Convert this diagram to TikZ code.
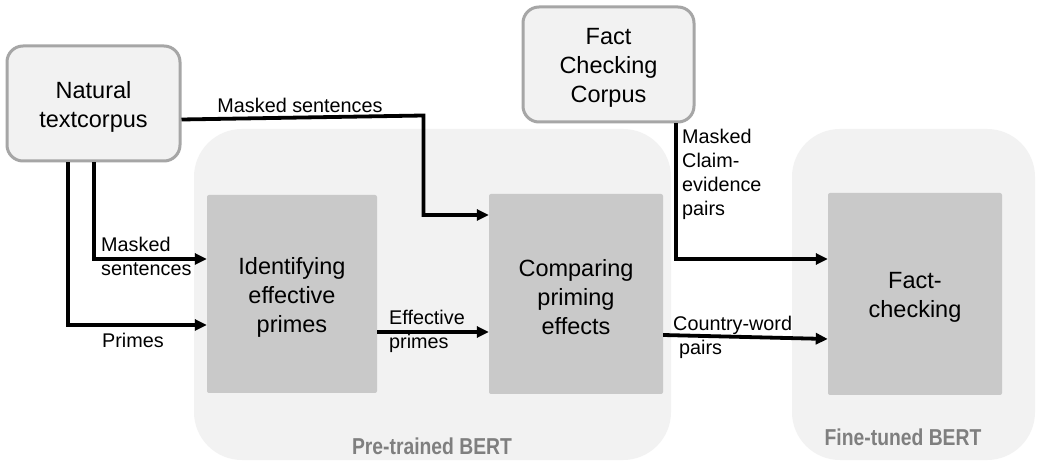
\documentclass[tikz,border=0pt]{standalone}
\usepackage{fontspec}
\setmainfont{Liberation Sans}
\newfontfamily\narrowbold[FakeStretch=0.84]{Liberation Sans Bold}
\usetikzlibrary{arrows.meta}
\definecolor{boxgray}{HTML}{C9C9C9}
\definecolor{lightbg}{HTML}{F2F2F2}
\definecolor{bordergray}{HTML}{A6A6A6}
\definecolor{labelgray}{HTML}{7F7F7F}
\begin{document}
\begin{tikzpicture}[x=1pt,y=-1pt,
  corpus/.style={draw=bordergray,line width=3pt,fill=lightbg,rounded corners=16pt,inner sep=0pt},
  container/.style={fill=lightbg,rounded corners=48pt,inner sep=0pt},
  stepbox/.style={fill=boxgray,rounded corners=2pt,inner sep=0pt},
  boxtext/.style={align=center,inner sep=0pt,yshift=-3pt,font=\fontsize{23.5}{29}\selectfont},
  arr/.style={line width=3.8pt,-{Triangle[length=12pt,width=11pt]}},
  lbl/.style={inner sep=0pt,align=left,font=\fontsize{19.8}{23.8}\selectfont},
  bert/.style={inner sep=0pt,text=labelgray,font=\fontsize{23}{27}\narrowbold}]
\useasboundingbox[fill=white] (0,0) rectangle (1045,470);
% containers
\node[container,minimum width=477pt,minimum height=331pt] (pre) at (432.5,294.5) {};
\node[container,minimum width=243pt,minimum height=331pt] (fine) at (913.5,294.5) {};
\node[bert] (prelbl) at (432,446) {Pre-trained BERT};
\node[bert] (finelbl) at (903,437) {Fine-tuned BERT};
% corpora
\node[corpus,minimum width=173pt,minimum height=115pt] (ntc) at (93.5,103.5) {};
\node[boxtext] (ntc-t) at (ntc.center) {Natural\\textcorpus};
\node[corpus,minimum width=171pt,minimum height=115pt] (fcc) at (608.5,64.5) {};
\node[boxtext] (fcc-t) at (fcc.center) {Fact\\Checking\\Corpus};
% steps
\node[stepbox,minimum width=170pt,minimum height=198pt] (idf) at (292,294) {};
\node[boxtext] (idf-t) at (idf.center) {Identifying\\effective\\primes};
\node[stepbox,minimum width=174pt,minimum height=200pt] (cmp) at (576,294) {};
\node[boxtext] (cmp-t) at (cmp.center) {Comparing\\priming\\effects};
\node[stepbox,minimum width=174pt,minimum height=202pt] (fct) at (915,294) {};
\node[boxtext] (fct-t) at (fct.center) {Fact-\\checking};
% arrows
\draw[arr] ([yshift=-16pt]ntc.east) -- ++(242,-4) |- ([yshift=79pt]cmp.west);
\draw[arr] ([xshift=0.5pt]ntc.south) |- ([yshift=35pt]idf.west);
\draw[arr] ([xshift=-25.5pt]ntc.south) |- ([yshift=-31pt]idf.west);
\draw[arr] ([yshift=-38pt]idf.east) -- ([yshift=-38pt]cmp.west);
\draw[arr] ([xshift=67.5pt]fcc.south) |- ([yshift=35pt]fct.west);
\draw[arr] ([yshift=-41pt]cmp.east) -- ([yshift=-45pt]fct.west);
% labels
\node[lbl] (l1) at (300,105) {Masked sentences};
\node[lbl,anchor=west] (l2) at (101,256.5) {Masked\\sentences};
\node[lbl] (l3) at (133,340) {Primes};
\node[lbl,anchor=west] (l4) at (389,331.5) {Effective\\primes};
\node[lbl,anchor=west,font=\fontsize{19.8}{24}\selectfont] (l5) at (682,174) {Masked\\Claim-\\evidence\\pairs};
\node[lbl,anchor=west] (l6) at (673,337) {Country-word\\\hspace*{6pt}pairs};
\end{tikzpicture}
\end{document}
